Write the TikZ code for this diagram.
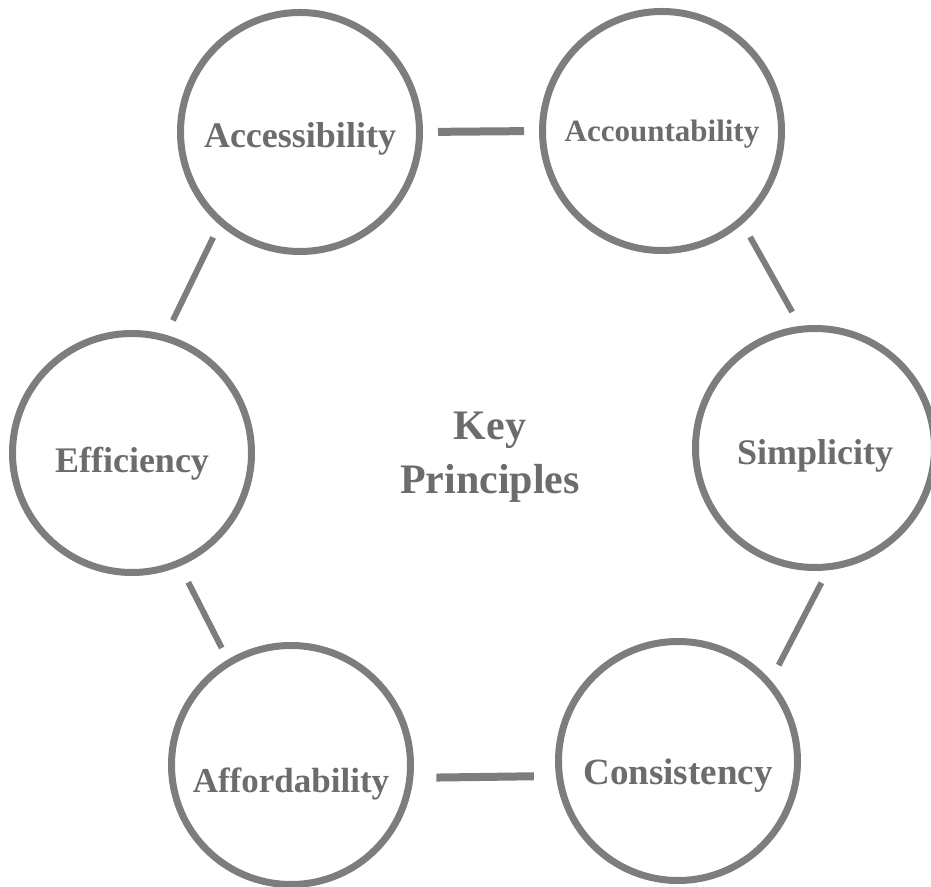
\documentclass[tikz,border=0pt]{standalone}
\usepackage{fontspec}
\setmainfont{Liberation Serif}
\definecolor{ringgray}{RGB}{125,125,125}
\definecolor{textgray}{RGB}{108,108,108}
\tikzset{
  principle/.style={circle, draw=ringgray, line width=7pt, minimum size=239pt,
    inner sep=0pt, text=textgray, text depth=0pt,
    font=\bfseries\fontsize{36}{40}\selectfont},
  link/.style={draw=ringgray, line width=6pt},
  bar/.style={link, line width=8pt}
}
\begin{document}
\begin{tikzpicture}[x=1pt,y=1pt]
      \useasboundingbox (0,0) rectangle (931,886);
      \draw
        (300,754) node[principle, text height=32pt] (acc){Accessibility}
        (662,755) node[principle, text height=22pt, font=\bfseries\fontsize{31}{36}\selectfont] (acct){Accountability}
        (815,438) node[principle, text height=34pt] (simp){Simplicity}
        (678,125) node[principle, text height=46pt, font=\bfseries\fontsize{37}{40}\selectfont] (cons){Consistency}
        (291,121) node[principle, text height=54pt, font=\bfseries\fontsize{35}{40}\selectfont] (aff){Affordability}
        (132,433) node[principle, text height=40pt] (eff){Efficiency};
      \node[text=textgray, align=center, font=\bfseries\fontsize{42}{54}\selectfont]
        (key) at (490,429) {Key\\Principles};
      \begin{scope}[link]
        \draw[bar, shorten <=15pt, shorten >=15pt] (acc.east) to (acct.west);
        \draw[shorten <=15pt, shorten >=16pt] (acct.-49) to (simp.97);
        \draw[shorten <=14pt, shorten >=17pt] (simp.-84) to (cons.41);
        \draw[bar, shorten <=23pt, shorten >=22pt] (aff.-6) to (cons.187);
        \draw[shorten <=13pt, shorten >=18pt] (aff.121) to (eff.-67);
        \draw[shorten <=16pt, shorten >=14pt] (eff.74) to (acc.229);
      \end{scope}
    \end{tikzpicture}
\end{document}
